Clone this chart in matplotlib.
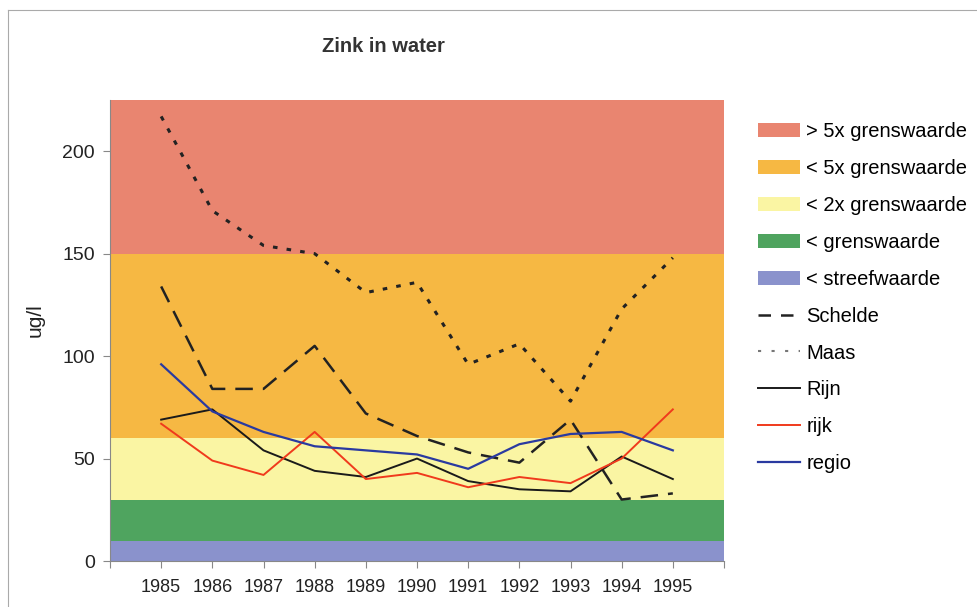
import matplotlib
matplotlib.use("Agg")
import matplotlib.pyplot as plt
from matplotlib.patches import Patch
from matplotlib.lines import Line2D

plt.rcParams['font.family'] = ['Liberation Sans', 'DejaVu Sans']

years = [1985, 1986, 1987, 1988, 1989, 1990, 1991, 1992, 1993, 1994, 1995]
schelde = [134, 84, 84, 105, 72, 61, 53, 48, 69, 30, 33]
maas = [217, 171, 154, 150, 131, 136, 96, 106, 78, 123, 148]
rijn = [69, 74, 54, 44, 41, 50, 39, 35, 34, 51, 40]
rijk = [67, 49, 42, 63, 40, 43, 36, 41, 38, 50, 74]
regio = [96, 73, 63, 56, 54, 52, 45, 57, 62, 63, 54]

# normbanden (onder, boven)
band_edges = [0, 10, 30, 60, 150, 225]
band_labels = ['< streefwaarde', '< grenswaarde', '< 2x grenswaarde',
               '< 5x grenswaarde', '> 5x grenswaarde']
band_colors = ['#8a92cc', '#4fa45f', '#faf5a3', '#f6b843', '#e98570']

fig = plt.figure(figsize=(9.77, 6.07), dpi=100)
ax = fig.add_axes([110/977, 1-561/607, (724-110)/977, (561-100)/607])

for i in range(len(band_labels)):
    ax.axhspan(band_edges[i], band_edges[i+1], color=band_colors[i], lw=0, zorder=0)

ax.plot(years, schelde, color='#222222', lw=1.8, dashes=(7, 4), zorder=3)
ax.plot(years, maas, color='#222222', lw=2.2, dashes=(1.5, 3), zorder=3)
ax.plot(years, rijn, color='#1a1a1a', lw=1.4, zorder=3)
ax.plot(years, rijk, color='#f03a1c', lw=1.4, zorder=3)
ax.plot(years, regio, color='#2a3aa0', lw=1.6, zorder=3)

ax.set_xlim(1984, 1996)
ax.set_ylim(0, 225)
ax.set_xticks(range(1984, 1997))
ax.set_xticklabels([''] + [str(y) for y in years] + [''])
ax.set_yticks([0, 50, 100, 150, 200])
ax.tick_params(axis='both', colors='#888888', length=5, labelcolor='#222222')
ax.tick_params(axis='x', labelsize=13, pad=8)
ax.tick_params(axis='y', labelsize=14, pad=6)
for s in ['top', 'right']:
    ax.spines[s].set_visible(False)
for s in ['left', 'bottom']:
    ax.spines[s].set_color('#888888')
    ax.spines[s].set_linewidth(0.8)

fig.text(35/977, 1-320/607, 'ug/l', rotation=90, ha='center', va='center',
         fontsize=15, color='#222222')
fig.text(383/977, 1-46/607, 'Zink in water', ha='center', va='center',
         fontsize=14.5, fontweight='bold', color='#333333')

handles = [Patch(facecolor=band_colors[i], edgecolor='none') for i in range(4, -1, -1)]
labels = [band_labels[i] for i in range(4, -1, -1)]
handles += [Line2D([], [], color='#222222', lw=1.8, dashes=(5, 4)),
            Line2D([], [], color='#777777', lw=1.5, dashes=(1.5, 5)),
            Line2D([], [], color='#1a1a1a', lw=1.4),
            Line2D([], [], color='#f03a1c', lw=1.4),
            Line2D([], [], color='#2a3aa0', lw=1.6)]
labels += ['Schelde', 'Maas', 'Rijn', 'rijk', 'regio']
fig.legend(handles, labels, loc='upper left', bbox_to_anchor=(758/977, 1-122/607),
           frameon=False, fontsize=14.5, handlelength=2.1, handleheight=0.7,
           handletextpad=0.3, labelspacing=0.89, borderpad=0, borderaxespad=0)

# kader om figuur
fig.add_artist(Line2D([8/977, 8/977], [0, 1-10/607], color='#aaaaaa', lw=0.8))
fig.add_artist(Line2D([8/977, 1], [1-10/607, 1-10/607], color='#aaaaaa', lw=0.8))

fig.savefig('out.png', dpi=100)
